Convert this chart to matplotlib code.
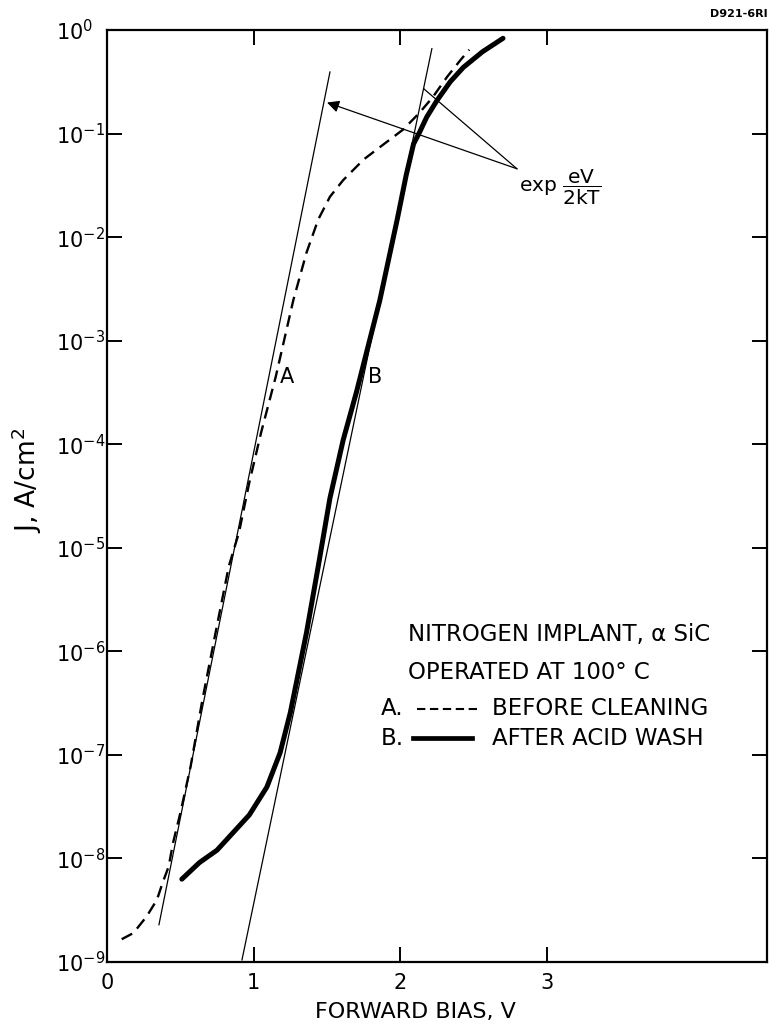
import numpy as np
import matplotlib
matplotlib.use('Agg')
import matplotlib.pyplot as plt
from matplotlib.ticker import FixedLocator, FixedFormatter, NullLocator

# curve A, before cleaning: forward bias (V) and log10 J (A/cm^2)
bias_a = [0.10, 0.18, 0.27, 0.34, 0.38, 0.42, 0.45, 0.50, 0.57, 0.65, 0.74,
          0.83, 0.90, 0.97, 1.05, 1.15, 1.27, 1.36, 1.44, 1.52, 1.61, 1.75,
          1.88, 2.02, 2.13, 2.22, 2.32, 2.41, 2.47]
logj_a = [-8.78, -8.72, -8.56, -8.40, -8.23, -8.08, -7.85, -7.56, -7.11, -6.47,
          -5.82, -5.18, -4.85, -4.37, -3.89, -3.35, -2.61, -2.15, -1.83, -1.61,
          -1.45, -1.25, -1.11, -0.96, -0.80, -0.65, -0.45, -0.29, -0.19]

# curve B, after acid wash
bias_b = [0.51, 0.63, 0.75, 0.86, 0.97, 1.09, 1.18, 1.25, 1.36, 1.44, 1.52,
          1.61, 1.70, 1.86, 1.98, 2.04, 2.09, 2.13, 2.18, 2.25, 2.34, 2.43,
          2.56, 2.70]
logj_b = [-8.20, -8.04, -7.92, -7.75, -7.58, -7.31, -6.98, -6.59, -5.82, -5.18,
          -4.52, -3.96, -3.50, -2.61, -1.82, -1.40, -1.10, -0.99, -0.84, -0.68,
          -0.50, -0.36, -0.21, -0.08]

# exp(eV/2kT) slope lines drawn against each curve
slope_a_bias = [0.354, 1.520]
slope_a_logj = [-8.64, -0.405]
slope_b_bias = [0.920, 2.215]
slope_b_logj = [-8.98, -0.18]

decades = list(range(-9, 1))
volt_ticks = [0, 1, 2, 3]

plt.rcParams['font.family'] = ['DejaVu Sans']
plt.rcParams['mathtext.fontset'] = 'dejavusans'

fig = plt.figure(figsize=(7.79, 10.28), dpi=100)
ax = fig.add_axes([0.1374, 0.0642, 0.8472, 0.9066])

ja = 10.0 ** np.array(logj_a)
jb = 10.0 ** np.array(logj_b)

ax.plot(bias_a, ja, color='black', lw=1.7, dashes=(5, 3))
ax.plot(bias_b, jb, color='black', lw=3.6, solid_capstyle='round')
ax.plot(slope_a_bias, 10.0 ** np.array(slope_a_logj), color='black', lw=0.9)
ax.plot(slope_b_bias, 10.0 ** np.array(slope_b_logj), color='black', lw=0.9)

ax.set_yscale('log')
ax.set_xlim(0, 4.5)
ax.set_ylim(1e-9, 1)

ax.xaxis.set_major_locator(FixedLocator(volt_ticks))
ax.xaxis.set_major_formatter(FixedFormatter([str(v) for v in volt_ticks]))
ax.yaxis.set_major_locator(FixedLocator([10.0 ** d for d in decades]))
ax.yaxis.set_major_formatter(FixedFormatter([r'$\mathregular{10^{%d}}$' % d for d in decades]))
ax.xaxis.set_minor_locator(NullLocator())
ax.yaxis.set_minor_locator(NullLocator())

ax.tick_params(which='major', direction='in', length=10.5, width=1.4,
               top=True, right=True, labelsize=15)
ax.tick_params(axis='x', pad=8)
ax.tick_params(axis='y', pad=37)
for lab in ax.get_yticklabels():
    lab.set_horizontalalignment('left')

for s in ax.spines.values():
    s.set_linewidth(1.6)

ax.set_xlabel('FORWARD BIAS, V', fontsize=16)
ax.xaxis.set_label_coords(0.468, -0.043)
ax.set_ylabel(r'J, A/cm$^{2}$', fontsize=19)
ax.yaxis.set_label_coords(-0.096, 0.517)

# curve letters
ax.text(1.23, 10 ** -3.35, 'A', fontsize=15, ha='center', va='center')
ax.text(1.83, 10 ** -3.35, 'B', fontsize=15, ha='center', va='center')

# slope annotation
ax.annotate('', xy=(1.50, 10 ** -0.70), xytext=(2.795, 10 ** -1.34),
            arrowprops=dict(arrowstyle='-|>', color='black', lw=0.9,
                            mutation_scale=18, shrinkA=0, shrinkB=0))
ax.plot([2.795, 2.162], [10 ** -1.34, 10 ** -0.57], color='black', lw=0.9)
ax.text(2.81, 10 ** -1.52, r'exp $\mathregular{\dfrac{eV}{2kT}}$', fontsize=14.5,
        ha='left', va='center')

# legend block
tr = ax.transAxes
ax.text(0.456, 0.351, 'NITROGEN IMPLANT, α SiC', transform=tr,
        fontsize=16.5, ha='left', va='center')
ax.text(0.456, 0.311, 'OPERATED AT 100° C', transform=tr,
        fontsize=16.5, ha='left', va='center')
ax.text(0.415, 0.272, 'A.', transform=tr, fontsize=16.5, ha='left', va='center')
ax.text(0.415, 0.240, 'B.', transform=tr, fontsize=16.5, ha='left', va='center')
ax.plot([0.470, 0.560], [0.272, 0.272], transform=tr, color='black', lw=1.5,
        dashes=(4, 2.2))
ax.plot([0.464, 0.553], [0.240, 0.240], transform=tr, color='black', lw=3.4)
ax.text(0.583, 0.272, 'BEFORE CLEANING', transform=tr, fontsize=16.5,
        ha='left', va='center')
ax.text(0.583, 0.240, 'AFTER ACID WASH', transform=tr, fontsize=16.5,
        ha='left', va='center')

fig.text(0.985, 0.986, 'D921-6RI', fontsize=8, fontweight='bold',
         ha='right', va='center')

fig.savefig('out.png', dpi=100)
